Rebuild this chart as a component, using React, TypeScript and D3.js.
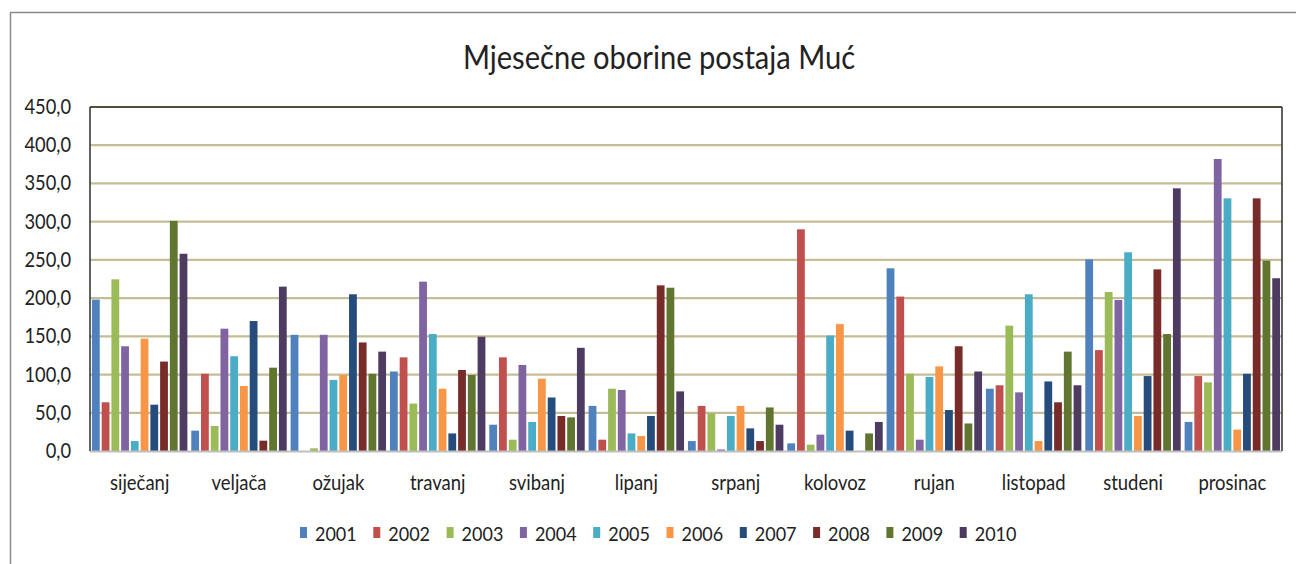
import React from "react";
import * as d3 from "d3";

const months = ["siječanj","veljača","ožujak","travanj","svibanj","lipanj","srpanj","kolovoz","rujan","listopad","studeni","prosinac"];
const years = ["2001","2002","2003","2004","2005","2006","2007","2008","2009","2010"];
const colors = ["#4F81BD","#C0504D","#9BBB59","#8064A2","#4BACC6","#F79646","#254C7B","#772C2A","#5F7530","#4D3B62"];
const yTicks = [0,50,100,150,200,250,300,350,400,450];

// values per year (series), 12 months each
const v2001 = [198, 26.6, 152, 104, 34.4, 59, 13, 10, 239, 81.5, 250.7, 38];
const v2002 = [63.7, 101, 0, 122.5, 122.5, 14.8, 59, 290, 202, 86, 132, 98];
const v2003 = [224.6, 32.7, 3.5, 62, 14.8, 81.5, 49.3, 8.3, 101, 164, 208, 89.8];
const v2004 = [137, 160, 152, 221.5, 112.5, 79.8, 2, 21.4, 14.8, 76.7, 197.5, 382];
const v2005 = [13, 124, 93, 153, 38, 23, 45.8, 151, 96.8, 205, 260, 330.5];
const v2006 = [147, 85, 99.4, 81.5, 94.6, 19.6, 59, 166, 110.7, 13, 45.8, 28];
const v2007 = [60.6, 170, 205, 23, 70, 45.8, 29.6, 26.6, 53.6, 91, 98, 101];
const v2008 = [117, 13.5, 142, 106, 45.8, 216.7, 13, 0, 137, 63.7, 237.6, 330.5];
const v2009 = [301, 109, 101, 99.4, 44, 213.6, 57, 23, 36, 130, 153, 249];
const v2010 = [258, 215, 130, 149.5, 135, 78, 34.4, 38, 104, 86, 343.6, 226];
const series = [v2001, v2002, v2003, v2004, v2005, v2006, v2007, v2008, v2009, v2010];

const W = 1296, H = 564;
const FONT = "Lato, 'Open Sans', sans-serif";

function SText({ x, y, sx = 0.84, anchor = "middle", size, children, fill = "#222" }: any) {
  return (
    <text transform={`translate(${x},${y}) scale(${sx},1)`} textAnchor={anchor}
      fontSize={size} fontFamily={FONT} fill={fill}>{children}</text>
  );
}

export default function App() {
  const left = 90, right = 1282, top = 107, bottom = 451;
  const y = d3.scaleLinear().domain([0, 450]).range([bottom, top]);
  const x0 = d3.scaleBand<string>().domain(months).range([left, right]).padding(0);
  const x1 = d3.scaleBand<string>().domain(years).range([0, x0.bandwidth()]).paddingInner(0.2).paddingOuter(0.2);
  const fmt = (v: number) => v.toFixed(1).replace(".", ",");
  const legendX0 = 300, legendStep = 73.3;

  return (
    <svg width={W} height={H} style={{ position: "absolute", left: 0, top: 0, background: "#fff" }}>
      <rect x={0} y={0} width={W} height={H} fill="#fff" />
      <path d={`M10.5,${H} V12.5 H${W}`} fill="none" stroke="#8a8a8a" strokeWidth={1.5} />
      <SText x={659} y={69} size={32} sx={0.91}>Mjesečne oborine postaja Muć</SText>

      {yTicks.map(t => t > 0 && (
        <line key={"g" + t} x1={left} x2={right} y1={y(t)} y2={y(t)} stroke="#C4BD97" strokeWidth={2.2} />
      ))}
      {yTicks.map(t => (
        <SText key={"t" + t} x={71} y={y(t) + 7} anchor="end" size={21} sx={0.87}>{fmt(t)}</SText>
      ))}

      {months.map((m, mi) => (
        <g key={m}>
          {years.map((yr, yi) => {
            const v = series[yi][mi];
            if (!v) return null;
            return <rect key={yr} x={x0(m)! + x1(yr)!} y={y(v)} width={x1.bandwidth()} height={y(0) - y(v)} fill={colors[yi]} />;
          })}
          <SText x={x0(m)! + x0.bandwidth() / 2} y={490} size={21} sx={0.88}>{m}</SText>
        </g>
      ))}

      <line x1={left} x2={right} y1={bottom + 0.5} y2={bottom + 0.5} stroke="#bfbfbf" strokeWidth={2} />
      <line x1={left} x2={right} y1={top} y2={top} stroke="#2b2b1e" strokeWidth={1.6} />
      <line x1={left} x2={left} y1={top} y2={bottom} stroke="#3a3a3a" strokeWidth={1.6} />
      <line x1={right} x2={right} y1={top} y2={bottom} stroke="#3a3a3a" strokeWidth={1.6} />

      {years.map((yr, i) => (
        <g key={"l" + yr}>
          <rect x={legendX0 + i * legendStep} y={527} width={7} height={11} fill={colors[i]} />
          <SText x={legendX0 + i * legendStep + 15} y={541} anchor="start" size={20} sx={0.9}>{yr}</SText>
        </g>
      ))}
    </svg>
  );
}
